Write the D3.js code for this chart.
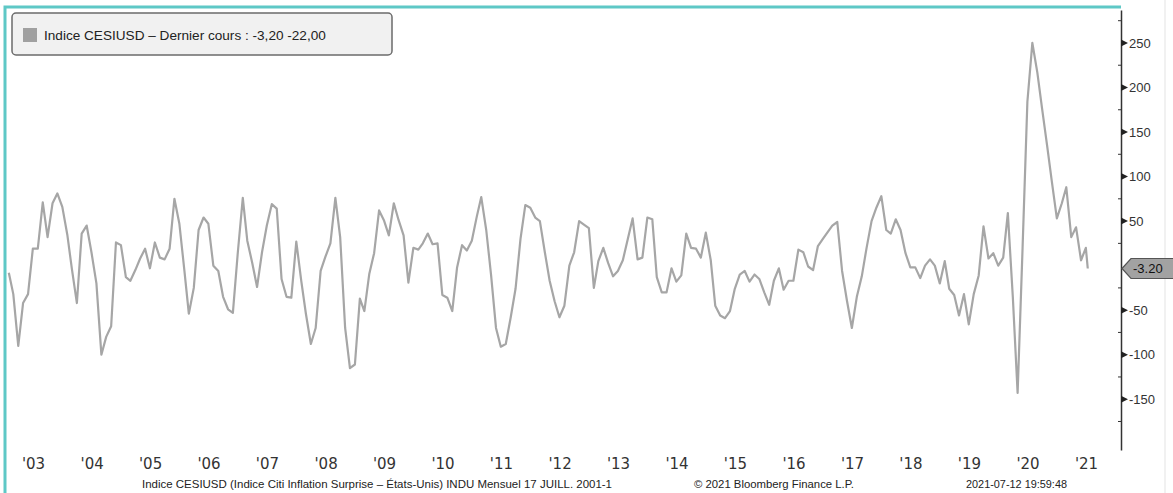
<!DOCTYPE html>
<html>
<head>
<meta charset="utf-8">
<script src="https://cdn.jsdelivr.net/npm/d3@7"></script>
<style>
    body { margin: 0; background: #fff; }
    svg { display: block; }
    .ylab text { font-family: "Liberation Sans", Arial, sans-serif; font-size: 13px; fill: #333; }
    .xlab text { font-family: "DejaVu Sans", sans-serif; font-size: 15px; fill: #333; }
    .foot { font-family: "Liberation Sans", Arial, sans-serif; font-size: 11px; fill: #222; }
</style>
</head>
<body>
<script>
// monthly CESIUSD readings, Jan 2003 .. Jun 2021, then the partial July 2021 print
let cesiValues = [
    -8, -32, -90, -42, -32, 19, 19, 71, 32, 70, 81, 66,
    35, -4, -42, 36, 45, 15, -20, -100, -80, -68, 26, 23,
    -13, -17, -5, 8, 19, -3, 26, 9, 7, 19, 75, 47,
    -5, -54, -25, 40, 54, 47, 0, -6, -35, -49, -53, 15,
    76, 28, 3, -24, 15, 45, 69, 64, -15, -35, -36, 27,
    -17, -54, -88, -70, -6, 10, 25, 76, 32, -70, -115, -111,
    -37, -51, -9, 14, 62, 51, 34, 70, 51, 34, -19, 20,
    18, 25, 36, 24, 25, -33, -36, -51, -2, 23, 17, 28,
    55, 77, 40, -10, -70, -91, -88, -58, -26, 30, 68, 65,
    54, 50, 15, -17, -40, -58, -45, 0, 15, 50, 46, 42,
    -25, 5, 20, 3, -12, -6, 6, 30, 53, 7, 9, 54,
    52, -13, -30, -30, -3, -18, -11, 36, 20, 19, 9, 37,
    6, -45, -56, -59, -51, -26, -10, -6, -18, -10, -15, -30,
    -44, -17, -3, -27, -17, -17, 18, 15, -1, -5, 22, 30,
    38, 45, 49, -6, -40, -70, -35, -12, 20, 50, 65, 78,
    40, 36, 52, 40, 14, -2, -2, -14, 0, 7, 0, -20,
    5, -26, -33, -56, -32, -66, -32, -11, 44, 8, 14, 0,
    9, 59, -35, -143, 20, 184, 250, 217, 176, 135, 94, 53,
    70, 88, 32, 43, 6, 20, -3.2
];
let startYear = 2003;
let lastPrint = new Date(2021, 6, 12);
let lastValueLabel = '-3.20';

let yearLabels = ["'03", "'04", "'05", "'06", "'07", "'08", "'09", "'10", "'11", "'12",
    "'13", "'14", "'15", "'16", "'17", "'18", "'19", "'20", "'21"];
let majorTicks = [250, 200, 150, 100, 50, -50, -100, -150];
let minorTicks = [275, 225, 175, 125, 75, 25, -25, -75, -125, -175];

let legendText = 'Indice CESIUSD \u2013 Dernier cours : -3,20 -22,00';
let footerSource = 'Indice CESIUSD (Indice Citi Inflation Surprise \u2013 \u00c9tats-Unis) INDU Mensuel 17 JUILL. 2001-1';
let footerCopy = '\u00a9 2021 Bloomberg Finance L.P.';
let footerStamp = '2021-07-12 19:59:48';

let width = 1173, height = 493;
let axisX = 1121;
let teal = '#5ec8c6';

// month-end dates, last one is the intra-month print
let data = cesiValues.map((v, i) => ({
    date: i === cesiValues.length - 1 ? lastPrint : new Date(startYear, i + 1, 0),
    value: v
}));

let svg = d3.select('body').append('svg')
    .attr('width', width)
    .attr('height', height);

let x = d3.scaleTime()
    .domain([new Date(2003, 6, 1), new Date(2021, 6, 1)])
    .range([33, 1086]);

let y = d3.scaleLinear()
    .domain([-207, 287])
    .range([450, 10]);

// faint outer edge on the right
svg.append('line')
    .attr('x1', 1165).attr('x2', 1165)
    .attr('y1', 0).attr('y2', height)
    .attr('stroke', '#ececec')
    .attr('stroke-width', 1.5);

// teal panel frame
svg.append('path')
    .attr('d', `M5,${height} L5,7 L${axisX},7`)
    .attr('fill', 'none')
    .attr('stroke', teal)
    .attr('stroke-width', 3);

// series
let line = d3.line()
    .x(d => x(d.date))
    .y(d => y(d.value));

svg.append('path')
    .datum(data)
    .attr('fill', 'none')
    .attr('stroke', '#a6a6a6')
    .attr('stroke-width', 2.2)
    .attr('stroke-linejoin', 'round')
    .attr('d', line);

// right axis
let yAxis = d3.axisRight(y)
    .tickValues(majorTicks)
    .tickFormat(d => String(d))
    .tickSize(0)
    .tickSizeOuter(0)
    .tickPadding(8);

let yg = svg.append('g')
    .attr('class', 'ylab')
    .attr('transform', `translate(${axisX},0)`)
    .call(yAxis);

yg.select('.domain')
    .attr('stroke', '#333')
    .attr('stroke-width', 1.5);

yg.selectAll('.minor')
    .data(minorTicks)
    .enter().append('line')
    .attr('class', 'minor')
    .attr('x1', -3).attr('x2', 1)
    .attr('y1', d => y(d)).attr('y2', d => y(d))
    .attr('stroke', '#333')
    .attr('stroke-width', 1);

yg.selectAll('.arrow')
    .data(majorTicks)
    .enter().append('path')
    .attr('class', 'arrow')
    .attr('d', 'M0,-3.5 L7,0 L0,3.5 Z')
    .attr('transform', d => `translate(0,${y(d)})`)
    .attr('fill', '#222');

// last value tag
let lastY = y(cesiValues[cesiValues.length - 1]);
svg.append('path')
    .attr('d', `M${axisX + 1},${lastY} L${axisX + 10},${lastY - 10} L1176,${lastY - 10} L1176,${lastY + 10} L${axisX + 10},${lastY + 10} Z`)
    .attr('fill', '#a2a2a2')
    .attr('stroke', '#555')
    .attr('stroke-width', 1.2);

svg.append('text')
    .attr('x', axisX + 12)
    .attr('y', lastY)
    .attr('dy', '0.35em')
    .style('font-family', '"Liberation Sans", Arial, sans-serif')
    .style('font-size', '13px')
    .style('fill', '#111')
    .text(lastValueLabel);

// year labels centred on mid-year
let xAxis = d3.axisBottom(x)
    .tickValues(yearLabels.map((d, i) => new Date(startYear + i, 6, 1)))
    .tickFormat((d, i) => yearLabels[i])
    .tickSize(0)
    .tickPadding(6);

let xg = svg.append('g')
    .attr('class', 'xlab')
    .attr('transform', 'translate(0,452)')
    .call(xAxis);
xg.select('.domain').remove();

// legend
let legend = svg.append('g');
legend.append('rect')
    .attr('x', 12).attr('y', 13)
    .attr('width', 380).attr('height', 42)
    .attr('rx', 4)
    .attr('fill', '#f1f1f1')
    .attr('stroke', '#6b6b6b')
    .attr('stroke-width', 1.5);
legend.append('rect')
    .attr('x', 23).attr('y', 28)
    .attr('width', 14).attr('height', 14)
    .attr('fill', '#a0a0a0');
legend.append('text')
    .attr('x', 44).attr('y', 40)
    .style('font-family', '"Liberation Sans", Arial, sans-serif')
    .style('font-size', '13.6px')
    .style('fill', '#222')
    .text(legendText);

// footer
svg.append('text').attr('class', 'foot')
    .attr('x', 142).attr('y', 488)
    .attr('textLength', 470).attr('lengthAdjust', 'spacingAndGlyphs')
    .text(footerSource);
svg.append('text').attr('class', 'foot')
    .attr('x', 694).attr('y', 488)
    .attr('textLength', 160).attr('lengthAdjust', 'spacingAndGlyphs')
    .text(footerCopy);
svg.append('text').attr('class', 'foot')
    .attr('x', 966).attr('y', 488)
    .attr('textLength', 101).attr('lengthAdjust', 'spacingAndGlyphs')
    .text(footerStamp);
</script>
</body>
</html>
